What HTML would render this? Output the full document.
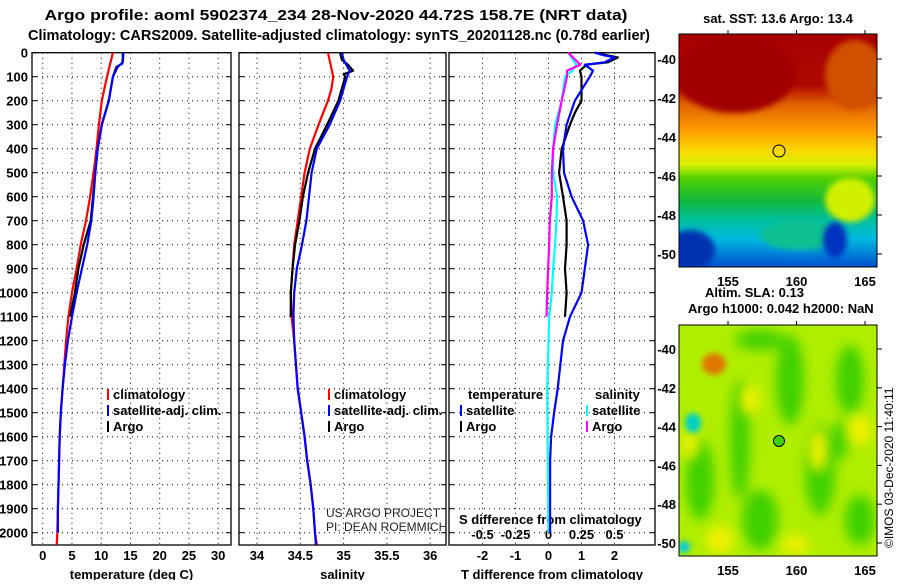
<!DOCTYPE html>
<html><head><meta charset="utf-8">
<style>
body{margin:0;background:#fff;}
svg text{font-family:"Liberation Sans",sans-serif;}
.b{font-weight:bold;font-size:13px;}
</style></head>
<body>
<svg id="c" width="900" height="580" xmlns="http://www.w3.org/2000/svg">
<defs>
<linearGradient id="sst" x1="0" y1="0" x2="0" y2="1">
<stop offset="0" stop-color="#a80000"/><stop offset="0.22" stop-color="#b00800"/>
<stop offset="0.3" stop-color="#e06000"/><stop offset="0.42" stop-color="#ffa000"/>
<stop offset="0.5" stop-color="#f8d800"/><stop offset="0.56" stop-color="#d8f000"/>
<stop offset="0.62" stop-color="#50d000"/><stop offset="0.72" stop-color="#10b840"/>
<stop offset="0.8" stop-color="#00c0a0"/><stop offset="0.88" stop-color="#00b8e0"/>
<stop offset="1" stop-color="#0050d0"/></linearGradient>
<filter id="bl" x="-50%" y="-50%" width="200%" height="200%"><feGaussianBlur stdDeviation="6"/></filter>
<filter id="bl2" x="-50%" y="-50%" width="200%" height="200%"><feGaussianBlur stdDeviation="3"/></filter>
<clipPath id="m1"><rect x="679" y="34" width="198" height="233"/></clipPath>
<clipPath id="m2"><rect x="679" y="325" width="198" height="231"/></clipPath>
</defs>
<text x="336" y="20" font-size="15" font-weight="bold" text-anchor="middle" textLength="583" lengthAdjust="spacingAndGlyphs">Argo profile: aoml 5902374_234 28-Nov-2020 44.72S 158.7E (NRT data)</text>
<text x="339" y="40" font-size="15" font-weight="bold" text-anchor="middle" textLength="622" lengthAdjust="spacingAndGlyphs">Climatology: CARS2009. Satellite-adjusted climatology: synTS_20201128.nc (0.78d earlier)</text>

<g id="map1" clip-path="url(#m1)">
<rect x="679" y="34" width="198" height="233" fill="url(#sst)"/>
<ellipse cx="855" cy="75" rx="30" ry="35" fill="#d05000" filter="url(#bl2)"/>
<ellipse cx="850" cy="200" rx="25" ry="22" fill="#d0f000" filter="url(#bl2)"/>
<ellipse cx="800" cy="235" rx="40" ry="15" fill="#10c090" filter="url(#bl2)"/>
<ellipse cx="690" cy="250" rx="25" ry="20" fill="#0030b0" filter="url(#bl2)"/>
<ellipse cx="835" cy="240" rx="12" ry="18" fill="#0030c0" filter="url(#bl2)"/>
<ellipse cx="735" cy="75" rx="60" ry="38" fill="#a00000" filter="url(#bl2)"/>
</g>
<rect x="679" y="34" width="198" height="233" fill="none" stroke="#000"/>
<circle cx="779" cy="151" r="6" fill="none" stroke="#000"/>
<text class="b" x="778" y="23" text-anchor="middle">sat. SST: 13.6 Argo: 13.4</text>

<g id="map2" clip-path="url(#m2)">
<rect x="679" y="325" width="198" height="231" fill="#b0ee00"/>
<g filter="url(#bl)" fill="#40d000">
<ellipse cx="790" cy="380" rx="14" ry="45"/><ellipse cx="740" cy="440" rx="10" ry="60"/>
<ellipse cx="820" cy="470" rx="15" ry="45"/><ellipse cx="700" cy="480" rx="14" ry="40"/>
<ellipse cx="850" cy="380" rx="14" ry="35"/><ellipse cx="760" cy="520" rx="18" ry="30"/>
<ellipse cx="860" cy="520" rx="15" ry="25"/><ellipse cx="760" cy="340" rx="25" ry="10"/>
<ellipse cx="840" cy="440" rx="8" ry="20"/>
</g>
<g filter="url(#bl)" fill="#f0f000">
<ellipse cx="750" cy="400" rx="10" ry="15"/><ellipse cx="818" cy="450" rx="10" ry="22"/>
<ellipse cx="720" cy="540" rx="14" ry="14"/><ellipse cx="795" cy="545" rx="14" ry="10"/>
<ellipse cx="690" cy="445" rx="8" ry="15"/><ellipse cx="860" cy="430" rx="12" ry="15"/>
</g>
<ellipse cx="714" cy="364" rx="12" ry="11" fill="#e07800" filter="url(#bl2)"/>
<ellipse cx="693" cy="423" rx="8" ry="10" fill="#00d0c8" filter="url(#bl2)"/>
<ellipse cx="684" cy="547" rx="6" ry="6" fill="#00c8e0" filter="url(#bl2)"/>
</g>
<rect x="679" y="325" width="198" height="231" fill="none" stroke="#000"/>
<circle cx="779" cy="441" r="5.5" fill="#40d000" stroke="#000"/>
<text class="b" x="705" y="297">Altim. SLA: 0.13</text>
<text class="b" x="688" y="313">Argo h1000: 0.042 h2000: NaN</text>
<text x="893" y="548" font-size="12" transform="rotate(-90 893 548)">©IMOS 03-Dec-2020 11:40:11</text>
</svg>
<script>
// depth axis
const depthTicks=[0,100,200,300,400,500,600,700,800,900,1000,1100,1200,1300,1400,1500,1600,1700,1800,1900,2000];
const tempTicks=[0,5,10,15,20,25,30];
const salTicks=[34,34.5,35,35.5,36];
const tdTicks=[-2,-1,0,1,2];
const sdTicks=[-0.5,-0.25,0,0.25,0.5];
const latTicks=[-40,-42,-44,-46,-48,-50];
const lonTicks=[155,160,165];
// temperature
const tArgoZ=[0,20,45,60,100,200,300,400,500,600,700,800,900,1000,1100];
const tArgoV=[13.7,13.7,13.6,12.6,12.0,11.3,10.1,9.4,9.0,8.6,8.2,7.0,6.1,5.5,4.7];
const tSatZ=[0,40,60,100,200,300,400,500,600,700,800,900,1000,1100,1200,1300,1400,1500,1600,1700,1800,1900,2000];
const tSatV=[13.8,13.7,12.8,12.0,11.3,10.1,9.4,9.0,8.7,8.3,7.6,6.7,5.8,5.0,4.3,3.8,3.4,3.1,2.9,2.8,2.7,2.6,2.6];
const tClimZ=[0,100,200,300,400,500,600,700,800,900,1000,1100,1200,1300,1400,1500,1600,1700,1800,1900,2000,2050];
const tClimV=[12.0,11.0,10.1,9.6,9.2,8.7,8.1,7.4,6.5,5.8,5.0,4.4,4.0,3.7,3.4,3.1,2.9,2.8,2.7,2.6,2.5,2.4];
// salinity
const sArgoZ=[0,30,50,75,90,100,200,300,400,500,600,700,800,900,1000,1100];
const sArgoV=[34.96,34.98,35.05,35.11,35.0,35.02,34.94,34.81,34.67,34.59,34.53,34.49,34.44,34.41,34.39,34.39];
const sSatZ=[0,30,75,100,150,200,300,400,500,600,700,800,900,1000,1100,1200,1400,1500,1600,1700,1800,1900,2000,2050];
const sSatV=[34.98,35.0,35.07,35.04,35.0,34.96,34.84,34.69,34.63,34.6,34.57,34.52,34.46,34.43,34.42,34.43,34.47,34.51,34.55,34.58,34.62,34.65,34.67,34.68];
const sClimZ=[0,100,150,200,300,400,500,600,700,800,900,1000,1100,1200,1400,1500,1600,1700,1800,1900,2000,2050];
const sClimV=[34.82,34.88,34.86,34.82,34.71,34.61,34.55,34.51,34.47,34.43,34.41,34.39,34.40,34.43,34.47,34.51,34.55,34.58,34.62,34.65,34.67,34.69];
// differences
const dTSatZ=[0,10,20,40,50,75,100,200,300,400,500,600,700,800,900,1000,1100,1200,1400,1500,1600,1700,1800,1900,2000];
const dTSatV=[1.4,1.65,2.0,1.7,1.1,1.35,1.25,0.8,0.55,0.44,0.47,0.7,1.05,1.2,1.1,1.0,0.65,0.44,0.28,0.17,0.08,0.05,0.05,0.05,0.05];
const dTArgoZ=[0,20,40,50,75,100,200,250,300,400,500,600,700,800,900,1000,1100];
const dTArgoV=[1.4,2.1,1.8,1.15,0.95,1.0,1.0,0.8,0.65,0.4,0.32,0.44,0.55,0.55,0.5,0.55,0.5];
const dSSatZ=[0,50,75,100,200,300,400,500,600,700,800,900,1000,1100,1400,1700,2000];
const dSSatV=[0.15,0.21,0.18,0.125,0.1,0.05,0.035,0.035,0.065,0.06,0.05,0.035,0.025,0.005,-0.01,-0.005,0];
const dSArgoZ=[0,50,75,100,200,300,400,500,600,700,800,900,1000,1100];
const dSArgoV=[0.15,0.24,0.14,0.14,0.1,0.065,0.035,0.025,0.025,0.01,0.005,-0.003,-0.01,-0.015];

const NS='http://www.w3.org/2000/svg';
const svg=document.getElementById('c');
const Y0=52.7, YT=545;
const yD=d=>Y0+d*0.24;
const xT=v=>42.7+v*5.85;
const xS=v=>257+(v-34)*86.6;
const xTD=v=>548.5+v*33;
const xSD=v=>548.5+v*132;
function el(tag,attrs,parent){const e=document.createElementNS(NS,tag);for(const k in attrs)e.setAttribute(k,attrs[k]);(parent||svg).appendChild(e);return e;}
function txt(x,y,s,anchor,cls){const t=el('text',{x:x,y:y,'text-anchor':anchor||'start',class:cls||'b'});t.textContent=s;return t;}

const panels=[
 {x0:32,x1:231,ticks:tempTicks,fx:xT,label:'temperature (deg C)',name:'temperature'},
 {x0:239,x1:446,ticks:salTicks,fx:xS,label:'salinity',name:'salinity'},
 {x0:449,x1:655,ticks:tdTicks,fx:xTD,label:'T difference from climatology',name:'difference'}];
panels.forEach((p,i)=>{
 const g=el('g',{});
 
 
 depthTicks.forEach(d=>{const l=el('line',{x1:p.x0,x2:p.x1,y1:yD(d),y2:yD(d),stroke:'#000','stroke-dasharray':'1 4'},g);
  
  el('line',{x1:p.x0,x2:p.x0+5,y1:yD(d),y2:yD(d),stroke:'#000'},g);el('line',{x1:p.x1-5,x2:p.x1,y1:yD(d),y2:yD(d),stroke:'#000'},g);});
 p.ticks.forEach(v=>{const x=p.fx(v);const l=el('line',{x1:x,x2:x,y1:Y0,y2:YT,stroke:'#000','stroke-dasharray':'1 4'},g);
  
  const t=txt(x,560,String(v),'middle');});
 const r=el('rect',{x:p.x0,y:Y0,width:p.x1-p.x0,height:YT-Y0,fill:'none',stroke:'#000','stroke-width':1.3},g);
 
 const at=txt((p.x0+p.x1)/2,579,p.label,'middle');
 
});
depthTicks.forEach(d=>{const t=txt(28,yD(d)+5,String(d),'end');
 });
sdTicks.forEach(v=>{const t=txt(xSD(v),539,String(v),'middle');
 });
const st=txt(459,524,'S difference from climatology','start');


function line(Z,V,fx,color,name){
 const pts=Z.map((z,i)=>fx(V[i]).toFixed(1)+','+yD(z).toFixed(1)).join(' ');
 const pl=el('polyline',{points:pts,fill:'none',stroke:color,'stroke-width':2.2,'stroke-linejoin':'round'});
 
 
}
line(tClimZ,tClimV,xT,'#ff0000','temp-climatology-line');
line(tArgoZ,tArgoV,xT,'#000000','temp-argo-line');
line(tSatZ,tSatV,xT,'#0000ff','temp-satellite-line');
line(sClimZ,sClimV,xS,'#ff0000','sal-climatology-line');
line(sArgoZ,sArgoV,xS,'#000000','sal-argo-line');
line(sSatZ,sSatV,xS,'#0000ff','sal-satellite-line');
line(dSSatZ,dSSatV,xSD,'#00ffff','sdiff-satellite-line');
line(dSArgoZ,dSArgoV,xSD,'#ff00ff','sdiff-argo-line');
line(dTArgoZ,dTArgoV,xTD,'#000000','tdiff-argo-line');
line(dTSatZ,dTSatV,xTD,'#0000ff','tdiff-satellite-line');

function leg(x,y,color,label){
 const g=el('g',{});
 
 
 el('rect',{x:x,y:y-10,width:2,height:11,fill:color},g);
 const t=el('text',{x:x+6,y:y,class:'b'},g);t.textContent=label;
}
leg(107,399,'#ff0000','climatology');leg(107,415,'#0000ff','satellite-adj. clim.');leg(107,431,'#000','Argo');
leg(328,399,'#ff0000','climatology');leg(328,415,'#0000ff','satellite-adj. clim.');leg(328,431,'#000','Argo');
const lt=txt(468,399,'temperature');
const ls=txt(595,399,'salinity');
leg(460,415,'#0000ff','satellite');leg(460,431,'#000','Argo');
leg(586,415,'#00ffff','satellite');leg(586,431,'#ff00ff','Argo');
const c1=el('text',{x:326,y:517,'font-size':12,fill:'#222'});c1.textContent='US ARGO PROJECT';

const c2=el('text',{x:326,y:531,'font-size':12,fill:'#222'});c2.textContent='PI: DEAN ROEMMICH';


// map axes (lat labels on the left of each map, ticks on the right edge)
[[34,267,59,39],[325,556,349,38.8]].forEach(([top,bot,lat0,step])=>{
 latTicks.forEach((v,i)=>{const y=lat0+i*step;
  el('line',{x1:877,x2:882,y1:y,y2:y,stroke:'#000'});
  const t=txt(676,y+5,String(v),'end');});
 lonTicks.forEach((v,i)=>{const x=728+i*68.5;
  el('line',{x1:x,x2:x,y1:top-4,y2:top,stroke:'#000'});
  const t=txt(x,bot+19,String(v),'middle');});
});
</script>
</body></html>
